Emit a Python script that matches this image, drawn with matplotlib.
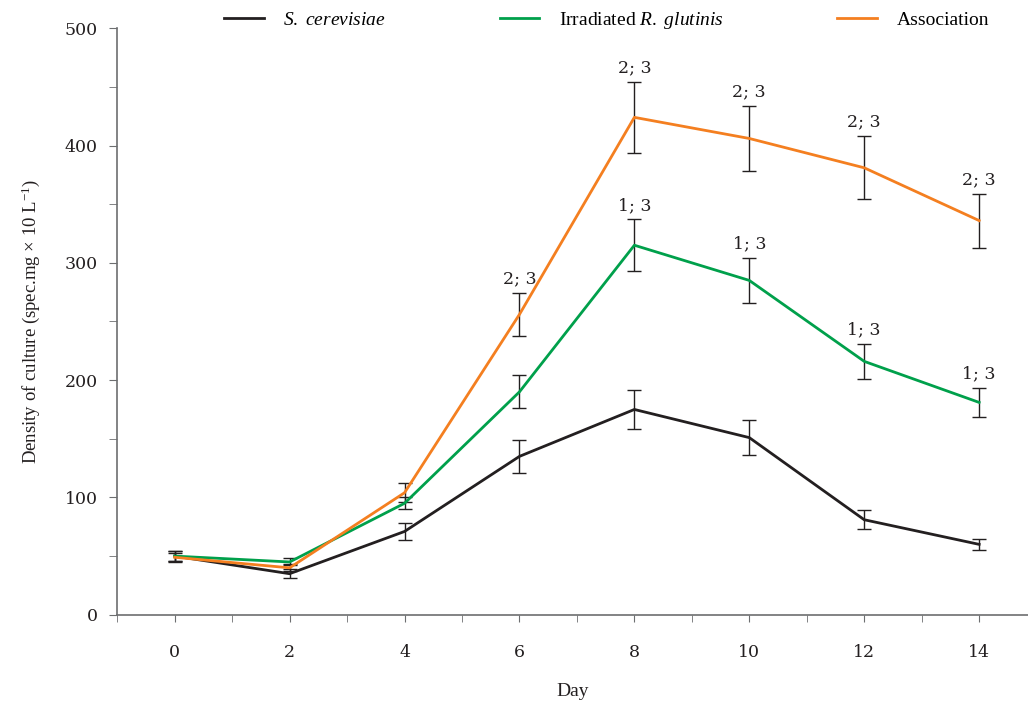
import numpy as np
import matplotlib.pyplot as plt

plt.rcParams['font.family'] = ['Liberation Serif', 'DejaVu Serif']
plt.rcParams['mathtext.fontset'] = 'custom'
plt.rcParams['mathtext.rm'] = 'Liberation Serif'
plt.rcParams['mathtext.it'] = 'Liberation Serif:italic'

days = [0, 2, 4, 6, 8, 10, 12, 14]

sc_mean = [50, 35, 71, 135, 175, 151, 81, 60]
sc_err = [4, 4, 7, 14, 17, 15, 8, 5]

rg_mean = [50, 45, 95, 190, 315, 285, 216, 181]
rg_err = [4, 3, 5, 14, 22, 19, 15, 12]

as_mean = [49, 40, 104, 256, 424, 406, 381, 336]
as_err = [4, 3, 8, 18, 30, 28, 27, 23]

as_notes = [None, None, None, '2; 3', '2; 3', '2; 3', '2; 3', '2; 3']
rg_notes = [None, None, None, None, '1; 3', '1; 3', '1; 3', '1; 3']

num_font = ['DejaVu Serif']
ink = '#231f20'

fig = plt.figure(figsize=(10.28, 7.05), dpi=100)
ax = fig.add_axes([0.114, 0.128, 0.886, 0.832])

series = [
    (sc_mean, sc_err, '#231f20', r'$\mathit{S.\ cerevisiae}$'),
    (rg_mean, rg_err, '#00a04b', r'Irradiated $\mathit{R.\ glutinis}$'),
    (as_mean, as_err, '#f47f20', 'Association'),
]
for mean, err, color, label in series:
    ax.plot(days, mean, color=color, lw=2, label=label, zorder=3)
    ax.errorbar(days, mean, yerr=err, fmt='none', ecolor=ink,
                elinewidth=1, capsize=5, capthick=1, zorder=2)

for notes, mean, err in [(as_notes, as_mean, as_err), (rg_notes, rg_mean, rg_err)]:
    for d, m, e, n in zip(days, mean, err, notes):
        if n:
            ax.annotate(n, (d, m + e), xytext=(0, 4), textcoords='offset points',
                        ha='center', va='bottom', fontsize=12.5, color=ink,
                        family=num_font)

ax.set_xlim(-1, 14.85)
ax.set_ylim(0, 500)
ax.set_xticks(np.arange(-1, 15, 1), minor=True)
ax.set_xticks(days)
ax.set_yticks(np.arange(0, 501, 50), minor=True)
ax.set_yticks(np.arange(0, 501, 100))

for s in ['top', 'right']:
    ax.spines[s].set_visible(False)
for s in ['left', 'bottom']:
    ax.spines[s].set_color('#6d6e70')
    ax.spines[s].set_linewidth(1.2)

ax.tick_params(axis='x', which='both', direction='out', length=5, color='#6d6e70',
               labelsize=12.5, pad=16, labelcolor=ink)
ax.tick_params(axis='y', which='both', direction='out', length=6, color='#6d6e70',
               labelsize=12.5, pad=8, labelcolor=ink)
for lab in ax.get_xticklabels() + ax.get_yticklabels():
    lab.set_family(num_font)

ax.set_xlabel('Day', fontsize=14, labelpad=16, color=ink)
ax.set_ylabel(r'Density of culture (spec.mg $\times$ 10 L$^{-1}$)', fontsize=13.5,
              labelpad=16, color=ink)

ax.legend(loc='center left', bbox_to_anchor=(0.117, 1.013), ncol=3, frameon=False,
          fontsize=14, handlelength=2.05, columnspacing=5.85, handletextpad=1.0,
          borderaxespad=0, borderpad=0)

fig.savefig('out.png', dpi=100)
